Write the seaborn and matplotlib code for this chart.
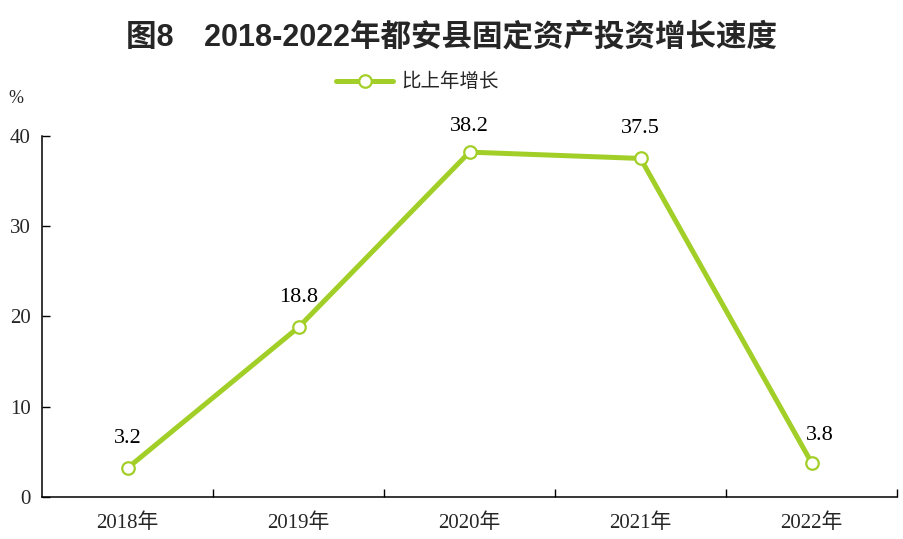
import matplotlib
matplotlib.use("Agg")
import matplotlib.pyplot as plt
import seaborn as sns
import pandas as pd
from matplotlib.lines import Line2D

years = ["2018年", "2019年", "2020年", "2021年", "2022年"]
growth = [3.2, 18.8, 38.2, 37.5, 3.8]
series_name = "比上年增长"
title = "图8　2018-2022年都安县固定资产投资增长速度"

sns.set_theme(style="white")
plt.rcParams["font.family"] = ["Liberation Serif", "Noto Sans CJK SC", "DejaVu Sans"]

color = "#A2CF27"
df = pd.DataFrame({"year": years, "growth": growth})

fig = plt.figure(figsize=(9.04, 5.39), dpi=100)
ax = fig.add_axes([0.0465, 0.078, 0.9458, 0.6699])

sns.lineplot(data=df, x="year", y="growth", ax=ax, color=color, linewidth=3.6,
             marker="o", markersize=9, markerfacecolor="white",
             markeredgecolor=color, markeredgewidth=1.6, sort=False)

ax.set_xlim(-0.5, len(years) - 0.5)
ax.set_ylim(0, 40)
ax.set_yticks([0, 10, 20, 30, 40])
ax.set_yticklabels(["0", "10", "20", "30", "40"], fontsize=15)

ax.set_xticks([i + 0.5 for i in range(len(years))])
ax.set_xticklabels([""] * len(years))
ax.set_xticks(list(range(len(years))), minor=True)
ax.set_xticklabels(years, minor=True, fontsize=15)
ax.tick_params(axis="x", which="major", bottom=True, direction="in", length=6, width=1, color="black")
ax.tick_params(axis="x", which="minor", bottom=True, length=0, pad=12)
ax.tick_params(axis="y", left=True, direction="in", length=6, width=1, color="black", pad=8)
ax.set_xlabel("")
ax.set_ylabel("")

for s in ["top", "right"]:
    ax.spines[s].set_visible(False)
for s in ["left", "bottom"]:
    ax.spines[s].set_color("black")
    ax.spines[s].set_linewidth(1.1)

offsets = [(0, 30), (0, 30), (0, 26), (0, 30), (8, 27)]
for i, (v, (dx, dy)) in enumerate(zip(growth, offsets)):
    ax.annotate(f"{v:.1f}", (i, v), xytext=(dx, dy), textcoords="offset pixels",
                ha="center", va="center", fontsize=16, color="black")

handle = Line2D([], [], color=color, linewidth=3.6, marker="o", markersize=9,
                markerfacecolor="white", markeredgecolor=color, markeredgewidth=1.6)
fig.legend([handle], [series_name], loc="center", bbox_to_anchor=(0.462, 0.848),
           frameon=False, handlelength=2.9, handletextpad=0.45,
           prop={"family": ["Noto Sans CJK SC"], "size": 14})

fig.text(0.018, 0.818, "%", fontsize=13, ha="center", va="center")
fig.suptitle(title, x=0.5, y=0.958, fontsize=22, fontweight="bold",
             family=["Liberation Sans", "Noto Sans CJK SC"])

fig.savefig("out.png", dpi=100)
